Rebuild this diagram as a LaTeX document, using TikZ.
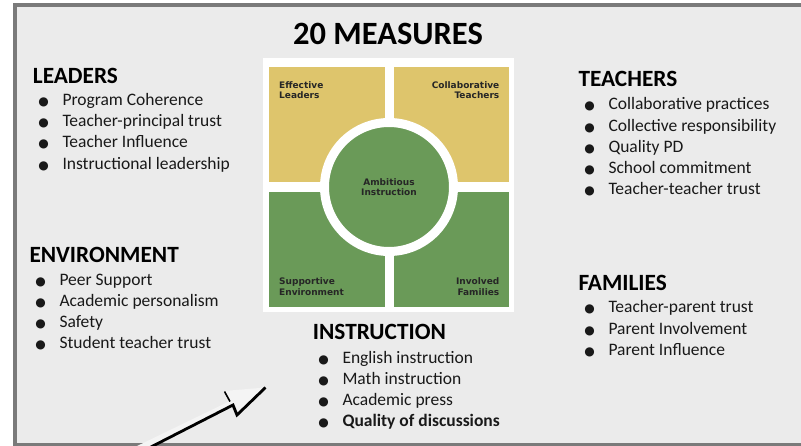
\documentclass[tikz,border=0pt]{standalone}
\usepackage{fontspec}
\setmainfont{Carlito}
\newfontfamily\quadfont{DejaVu Sans}
\definecolor{framegray}{HTML}{7A7A7A}
\definecolor{panelbg}{HTML}{EBEBEB}
\definecolor{quadyellow}{HTML}{DEC56C}
\definecolor{quadgreen}{HTML}{6A9A58}
\definecolor{arrowfill}{HTML}{F4F4F4}
\newcommand\blt{\llap{\makebox[0pt]{\raisebox{0pt}{\quadfont\fontsize{12}{12}\selectfont ●}}\hspace{19pt}}}
\begin{document}
\begin{tikzpicture}[x=1pt,y=-1pt,
  heading/.style={anchor=base west,inner sep=0pt,font=\fontsize{23.3}{25}\selectfont\bfseries},
  entry/.style={anchor=base west,inner sep=0pt,font=\fontsize{17.5}{21}\selectfont,text=black!90},
  quadlabel/.style={inner sep=0pt,font=\quadfont\fontsize{9}{10.7}\selectfont\bfseries,text=black!85}]
  \useasboundingbox (0,0) rectangle (801,446);
  \clip (0,0) rectangle (801,446);
  \fill[white] (0,0) rectangle (801,446);
  \draw[line width=4pt,framegray,fill=panelbg] (15.3,5.3) rectangle (830,444.5);

  \node[anchor=base,inner sep=0pt,font=\fontsize{32.5}{34}\selectfont\bfseries] (title) at (388,45) {20 MEASURES};

  % framework picture
  \fill[white] (263,58) rectangle (514,312);
  \fill[quadyellow] (269,67) rectangle (385,182);
  \fill[quadyellow] (394,67) rectangle (509,182);
  \fill[quadgreen] (269,192) rectangle (385,307);
  \fill[quadgreen] (394,192) rectangle (509,307);
  \node[circle,fill=quadgreen,draw=white,line width=9pt,minimum size=129pt,inner sep=0pt,
        align=center,font=\quadfont\fontsize{9}{10.7}\selectfont\bfseries,text=black!85] (core) at (389,187) {Ambitious\\Instruction};
  \node[quadlabel,anchor=north west,align=left] (effective) at (279,81) {Effective\\Leaders};
  \node[quadlabel,anchor=north east,align=right] (collab) at (499.5,81) {Collaborative\\Teachers};
  \node[quadlabel,anchor=south west,align=left] (supportive) at (279,296) {Supportive\\Environment};
  \node[quadlabel,anchor=south east,align=right] (involved) at (499.5,296) {Involved\\Families};

  % lists
  \node[heading] (leaders) at (32.7,83.5) {LEADERS};
  \foreach \t [count=\i] in {Program Coherence, Teacher-principal trust, Teacher Influence, Instructional leadership}
    \node[entry] (lead-\i) at (62.3,{84+21.3*\i}) {\blt\t};

  \node[heading] (teachers) at (578.3,86.7) {TEACHERS};
  \foreach \t [count=\i] in {Collaborative practices, Collective responsibility, Quality PD, School commitment, Teacher-teacher trust}
    \node[entry] (teach-\i) at (608.3,{88.5+21.3*\i}) {\blt\t};

  \node[heading] (environment) at (29.3,262.3) {ENVIRONMENT};
  \foreach \t [count=\i] in {Peer Support, Academic personalism, Safety, Student teacher trust}
    \node[entry] (env-\i) at (59.3,{263.8+21.3*\i}) {\blt\t};

  \node[heading] (families) at (578.3,290.7) {FAMILIES};
  \foreach \t [count=\i] in {Teacher-parent trust, Parent Involvement, Parent Influence}
    \node[entry] (fam-\i) at (608.3,{291.5+21.3*\i}) {\blt\t};

  \node[heading] (instruction) at (312.7,339.3) {INSTRUCTION};
  \foreach \t [count=\i] in {English instruction, Math instruction, Academic press, {\textbf{Quality of discussions}}}
    \node[entry] (instr-\i) at (342.3,{342.3+21*\i}) {\blt\t};

  % pointer arrow
  \fill[arrowfill] (133,448) -- (230,401) -- (224,391) -- (265.5,387.5) -- (237,415) -- (233,405) -- (147,448) -- cycle;
  \draw[line width=2.8pt,line join=miter] (147,449) -- (233,405) -- (237,415) -- (265.5,387.5);
  \draw[line width=1.6pt] (224.5,391.5) -- (230,401.5);
\end{tikzpicture}
\end{document}
